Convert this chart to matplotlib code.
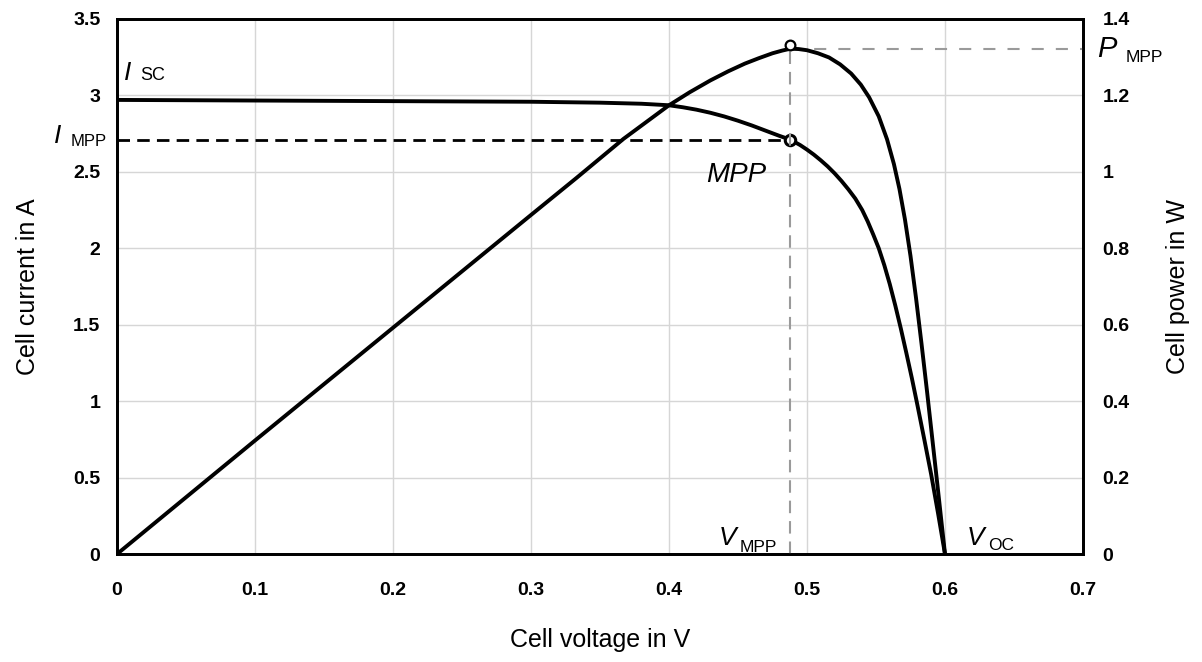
# I-V and P-V characteristic of a solar cell
import numpy as np
import matplotlib
matplotlib.use("Agg")
from matplotlib import pyplot as plt

# current curve (V in volts, I in amps)
v_iv = [0, 0.1, 0.2, 0.3, 0.35, 0.38, 0.4, 0.41, 0.42, 0.43, 0.44, 0.45, 0.46,
        0.47, 0.48, 0.488, 0.495, 0.5, 0.505, 0.51, 0.515, 0.52, 0.525, 0.53,
        0.535, 0.54, 0.544, 0.548, 0.552, 0.556, 0.56, 0.564, 0.568, 0.572,
        0.576, 0.58, 0.585, 0.59, 0.595, 0.6]
i_iv = [2.97, 2.966, 2.962, 2.958, 2.952, 2.945, 2.935, 2.922, 2.906, 2.886,
        2.862, 2.834, 2.803, 2.769, 2.735, 2.71, 2.675, 2.645, 2.612, 2.575,
        2.535, 2.49, 2.44, 2.385, 2.325, 2.25, 2.175, 2.09, 2.0, 1.89,
        1.765, 1.625, 1.475, 1.315, 1.15, 0.975, 0.75, 0.52, 0.265, 0.0]

# power curve (V in volts, P in watts)
v_pv = [0, 0.1, 0.2, 0.3, 0.333, 0.367, 0.4, 0.415, 0.43, 0.443, 0.455, 0.465,
        0.475, 0.482, 0.488, 0.494, 0.5, 0.508, 0.516, 0.524, 0.532, 0.539, 0.545,
        0.552, 0.558, 0.563, 0.567, 0.571, 0.575, 0.579, 0.583, 0.587, 0.591,
        0.595, 0.6]
p_pv = [0, 0.297, 0.592, 0.887, 0.984, 1.086, 1.174, 1.208, 1.239, 1.263, 1.283,
        1.297, 1.310, 1.317, 1.322, 1.321, 1.318, 1.310, 1.299, 1.281, 1.257, 1.228,
        1.195, 1.145, 1.085, 1.02, 0.955, 0.875, 0.78, 0.67, 0.55, 0.425, 0.295,
        0.165, 0.0]

# maximum power point
v_mpp = 0.488
i_mpp = 2.71
p_mpp = 1.322

x_ticks = [0, 0.1, 0.2, 0.3, 0.4, 0.5, 0.6, 0.7]
x_labels = ["0", "0.1", "0.2", "0.3", "0.4", "0.5", "0.6", "0.7"]
i_ticks = [0, 0.5, 1, 1.5, 2, 2.5, 3, 3.5]
i_labels = ["0", "0.5", "1", "1.5", "2", "2.5", "3", "3.5"]
p_ticks = [0, 0.2, 0.4, 0.6, 0.8, 1.0, 1.2, 1.4]
p_labels = ["0", "0.2", "0.4", "0.6", "0.8", "1", "1.2", "1.4"]

plt.rcParams['font.family'] = ['Liberation Sans', 'DejaVu Sans']

fig = plt.figure(figsize=(12.02, 6.62), dpi=100)
ax = fig.add_axes([0.0973, 0.163, 0.8037, 0.8085])
ax2 = ax.twinx()

ax.set_xlim(0, 0.7)
ax.set_ylim(0, 3.5)
ax2.set_ylim(0, 1.4)

# grid
ax.set_axisbelow(True)
ax.grid(True, color='#d6d6d6', linewidth=1.0)

# curves
ax.plot(v_iv, i_iv, color='black', linewidth=2.8, solid_joinstyle='round',
        solid_capstyle='round', zorder=3)
ax2.plot(v_pv, p_pv, color='black', linewidth=2.8, solid_joinstyle='round',
         solid_capstyle='round', zorder=3)

# MPP guide lines
ax.plot([0, v_mpp], [i_mpp, i_mpp], color='black', linewidth=2.0,
        dashes=(4.5, 2.6), zorder=2)
ax2.plot([v_mpp, v_mpp], [0, p_mpp], color='#9a9a9a', linewidth=1.5,
         dashes=(6.0, 3.8), zorder=2)
ax2.plot([v_mpp, 0.7], [p_mpp, p_mpp], color='#9a9a9a', linewidth=1.5,
         dashes=(5.8, 5.8), zorder=2)

# MPP markers
ax.plot([v_mpp], [i_mpp], marker='o', markersize=7.5, markerfacecolor='white',
        markeredgecolor='black', markeredgewidth=2.2, zorder=4)
ax2.plot([v_mpp], [p_mpp + 0.01], marker='o', markersize=7, markerfacecolor='white',
         markeredgecolor='black', markeredgewidth=1.6, zorder=4)

# ticks
ax.set_xticks(x_ticks)
ax.set_xticklabels(x_labels)
ax.set_yticks(i_ticks)
ax.set_yticklabels(i_labels)
ax2.set_yticks(p_ticks)
ax2.set_yticklabels(p_labels)
for a in (ax, ax2):
    a.tick_params(length=0, labelsize=14)
    for lab in a.get_xticklabels() + a.get_yticklabels():
        lab.set_fontweight('bold')
ax.tick_params(axis='x', pad=20)
ax.tick_params(axis='y', pad=12)
ax2.tick_params(axis='y', pad=14)

for a in (ax, ax2):
    for s in a.spines.values():
        s.set_linewidth(2.0)
        s.set_color('black')

# axis labels
ax.set_xlabel('Cell voltage in V', fontsize=18)
ax.set_ylabel('Cell current in A', fontsize=18)
ax2.set_ylabel('Cell power in W', fontsize=18, rotation=90)
ax.xaxis.set_label_coords(0.5, -0.161)
ax.xaxis.label.set_va('center')
ax.yaxis.set_label_coords(-0.092, 0.5)
ax.yaxis.label.set_va('center')
ax2.yaxis.set_label_coords(1.098, 0.5)
ax2.yaxis.label.set_va('center')

# annotations (placed in current-axis data units)
sub = dict(fontsize=12.5, va='baseline', ha='left')
ax.text(0.005, 3.10, 'I', fontsize=19, style='italic', va='baseline', ha='left')
ax.text(0.017, 3.10, 'SC', fontsize=13, va='baseline', ha='left')
ax.text(-0.046, 2.69, 'I', fontsize=19, style='italic', va='baseline', ha='left',
        clip_on=False)
ax.text(-0.0335, 2.67, 'MPP', clip_on=False, fontsize=12, va='baseline', ha='left')
ax.text(0.427, 2.43, 'MPP', fontsize=20, style='italic', va='baseline', ha='left')
ax.text(0.710, 3.25, 'P', fontsize=21, style='italic', va='baseline', ha='left',
        clip_on=False)
ax.text(0.731, 3.22, 'MPP', clip_on=False, **sub)
ax.text(0.436, 0.06, 'V', fontsize=19, style='italic', va='baseline', ha='left')
ax.text(0.451, 0.015, 'MPP', **sub)
ax.text(0.616, 0.06, 'V', fontsize=19, style='italic', va='baseline', ha='left')
ax.text(0.631, 0.03, 'OC', **sub)

plt.savefig('out.png', dpi=100)
print("Saved to out.png")
